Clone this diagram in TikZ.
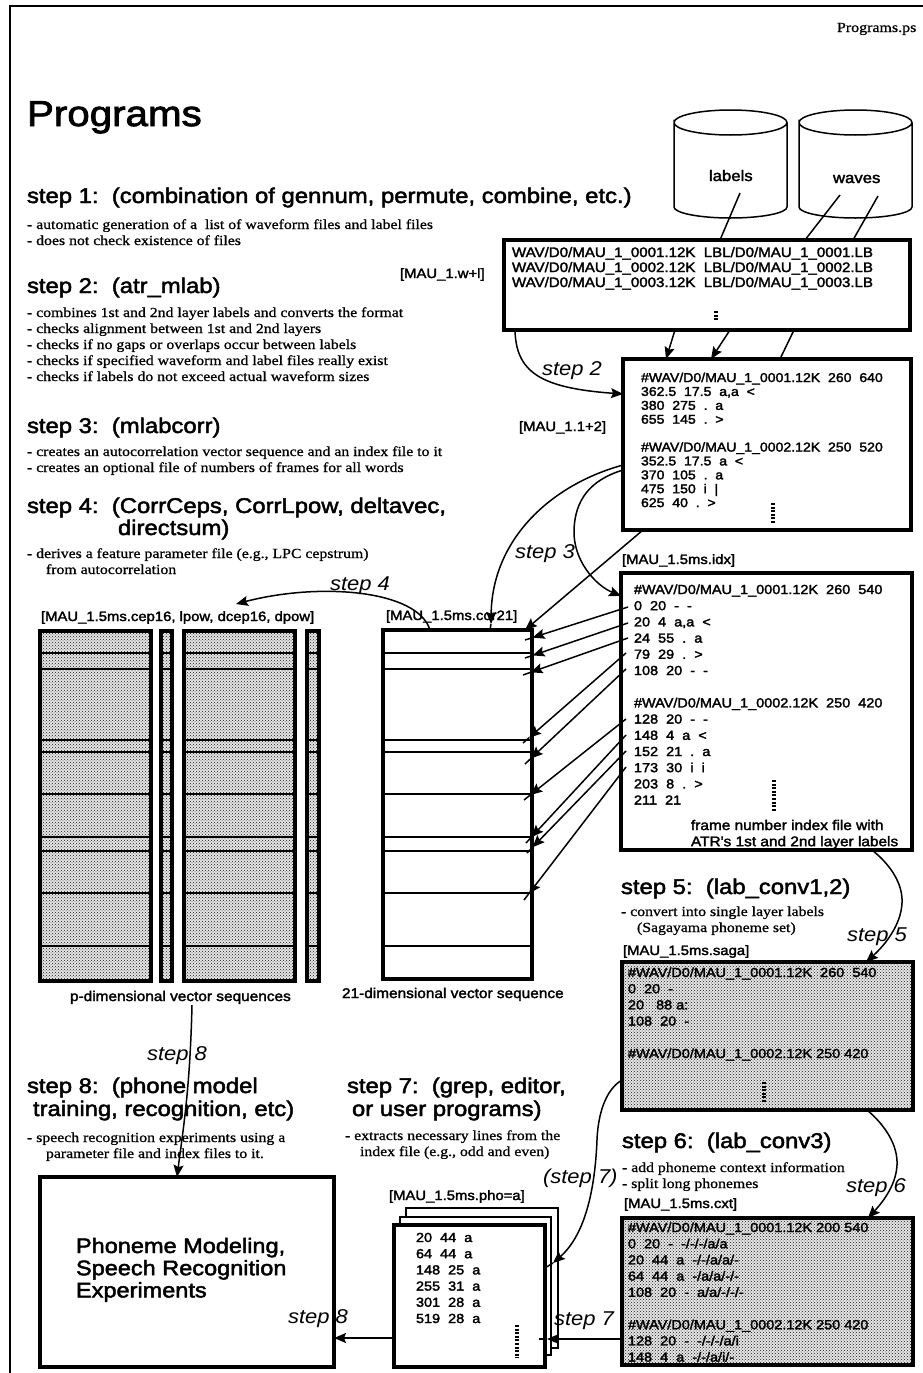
\documentclass[tikz,border=0pt]{standalone}
\usepackage{fontspec}
\usetikzlibrary{arrows.meta,patterns,calc}
\setmainfont{Liberation Serif}
\newfontfamily\hdf[FakeBold=2.2,FakeStretch=1.12]{Liberation Sans}
\newfontfamily\bxf[FakeBold=2.2,FakeStretch=1.1]{Liberation Sans}
\newfontfamily\stf[FakeStretch=1.1]{Liberation Sans}
\newfontfamily\srf[FakeBold=0.9,FakeStretch=1.14]{Liberation Serif}
\newcommand\hb{\rule{0pt}{40pt}}
\tikzset{
  tl/.style={anchor=north west,inner sep=0pt,outer sep=0pt,align=left,yshift=40pt},
  hd/.style={tl,font=\hdf\fontsize{21.3}{22.7}\selectfont},
  sr/.style={tl,font=\srf\fontsize{13.85}{16}\selectfont},
  fl/.style={tl,font=\bxf\fontsize{13.5}{14}\selectfont},
  bt/.style={tl,font=\bxf\fontsize{13.15}{16.2}\selectfont},
  sl/.style={tl,font=\stf\itshape\fontsize{20}{22}\selectfont},
  bx/.style={draw,anchor=north west,inner sep=0pt,outer sep=0pt,line width=3.2pt,fill=white},
  shd/.style={bx,pattern=crosshatch dots,pattern color=black!90},
  gbg/.style={draw=none,anchor=north west,inner sep=0pt,outer sep=0pt,fill=black!10},
  cn/.style={line width=1.5pt},
  arr/.style={cn,-{Stealth[length=12pt,width=10pt,inset=2pt]}},
  dv/.style={line width=1.5pt},
  vd/.style={line width=3.6pt,dash pattern=on 2pt off 1.6pt},
  cyl/.style={anchor=north west,inner sep=0pt,outer sep=0pt,minimum width=113pt,minimum height=108pt}
}
\begin{document}
\begin{tikzpicture}[x=1pt,y=-1pt]
\useasboundingbox (0,0) rectangle (923,1373);
\fill[white] (0,0) rectangle (923,1373);
% page frame
\coordinate (fa) at (10,1373);
\coordinate (fb) at (10,6);
\coordinate (fc) at (923,6);
\draw[line width=1.6pt] (fa) -- (fb) -- (fc);
% cylinders
\node[cyl] (labels) at (674,110) {};
\node[cyl] (waves) at (799,110) {};
\foreach \c in {labels,waves}
  \draw[cn,shift={(\c.north west)}] (0,12.5) .. controls (0,5.6) and (25.3,0) .. (56.5,0) .. controls (87.7,0) and (113,5.6) .. (113,12.5) .. controls (113,19.4) and (87.7,25) .. (56.5,25) .. controls (25.3,25) and (0,19.4) .. (0,12.5) -- (0,97) .. controls (0,103) and (25.3,108) .. (56.5,108) .. controls (87.7,108) and (113,103) .. (113,97) -- (113,12.5);
% boxes
\node[bx,minimum width=406pt,minimum height=90pt] (list) at (504,240) {};
\node[bx,minimum width=288pt,minimum height=171pt] (bb) at (623,359) {};
\node[bx,minimum width=291pt,minimum height=277pt] (idx) at (621,573) {};
\node[gbg,minimum width=291pt,minimum height=148pt] at (622,962) {};
\node[shd,minimum width=291pt,minimum height=148pt] (saga) at (622,962) {};
\node[gbg,minimum width=291pt,minimum height=147pt] at (622,1218) {};
\node[shd,minimum width=291pt,minimum height=147pt] (cxt) at (622,1218) {};
\node[bx,line width=1.5pt,minimum width=152pt,minimum height=140pt] (phoc) at (406,1208) {};
\node[bx,line width=1.5pt,minimum width=151pt,minimum height=138pt] (phob) at (400,1217) {};
\node[bx,minimum width=151pt,minimum height=142pt] (phoa) at (394,1225) {};
\node[bx,minimum width=294pt,minimum height=190pt] (phon) at (40,1177) {};
% vector files
\node[gbg,minimum width=111pt,minimum height=350pt] at (40,631) {};
\node[gbg,minimum width=11pt,minimum height=350pt] at (161,631) {};
\node[gbg,minimum width=111pt,minimum height=350pt] at (184,631) {};
\node[gbg,minimum width=12pt,minimum height=350pt] at (307,631) {};
\node[shd,minimum width=111pt,minimum height=350pt] (pa) at (40,631) {};
\node[shd,minimum width=11pt,minimum height=350pt] (sa) at (161,631) {};
\node[shd,minimum width=111pt,minimum height=350pt] (pb) at (184,631) {};
\node[shd,minimum width=12pt,minimum height=350pt] (sb) at (307,631) {};
\node[bx,minimum width=149pt,minimum height=349pt] (vec) at (383,630) {};
\foreach \n in {pa,sa,pb,sb,vec}
  \foreach \y in {653,669,740,752,794,837,851,893,946}
    \draw[dv] (\n.west |- 0,\y) -- (\n.east |- 0,\y);
% texts
\node[tl,font=\srf\fontsize{14}{15}\selectfont] (hdr) at (837,32) {\hb Programs.ps};
\node[tl,font=\hdf\fontsize{36}{38}\selectfont] (title) at (27,126) {\hb Programs};
\node[hd] (h1) at (27,203) {\hb step 1:\ \ (combination of gennum, permute, combine, etc.)};
\node[sr] (d1) at (27,229) {\hb - automatic generation of a\ \ list of waveform files and label files\\- does not check existence of files};
\node[hd] (h2) at (27,293) {\hb step 2:\ \ (atr\_mlab)};
\node[sr] (d2) at (27,317) {\hb - combines 1st and 2nd layer labels and converts the format\\- checks alignment between 1st and 2nd layers\\- checks if no gaps or overlaps occur between labels\\- checks if specified waveform and label files really exist\\- checks if labels do not exceed actual waveform sizes};
\node[hd] (h3) at (27,433) {\hb step 3:\ \ (mlabcorr)};
\node[sr] (d3) at (27,456) {\hb - creates an autocorrelation vector sequence and an index file to it\\- creates an optional file of numbers of frames for all words};
\node[hd] (h4) at (27,513) {\hb step 4:\ \ (CorrCeps, CorrLpow, deltavec,};
\node[hd] (h4b) at (118,535) {\hb directsum)};
\node[sr] (d4) at (27,558) {\hb - derives a feature parameter file (e.g., LPC cepstrum)};
\node[sr] (d4b) at (46,574) {\hb from autocorrelation};
\node[hd] (h5) at (621,894) {\hb step 5:\ \ (lab\_conv1,2)};
\node[sr] (d5) at (621,916) {\hb - convert into single layer labels};
\node[sr] (d5b) at (637,932) {\hb (Sagayama phoneme set)};
\node[hd] (h6) at (622,1148) {\hb step 6:\ \ (lab\_conv3)};
\node[sr] (d6) at (622,1172) {\hb - add phoneme context information\\- split long phonemes};
\node[hd] (h7) at (347,1093) {\hb step 7:\ \ (grep, editor,};
\node[hd] (h7b) at (352,1116) {\hb or user programs)};
\node[sr] (d7) at (345,1140) {\hb - extracts necessary lines from the};
\node[sr] (d7b) at (360,1156) {\hb index file (e.g., odd and even)};
\node[hd] (h8) at (27,1093) {\hb step 8:\ \ (phone model};
\node[hd] (h8b) at (33,1116) {\hb training, recognition, etc)};
\node[sr] (d8) at (27,1142) {\hb - speech recognition experiments using a};
\node[sr] (d8b) at (46,1158) {\hb parameter file and index files to it.};
% file labels
\node[fl] (lw) at (400,278) {\hb [MAU\_1.w+l]};
\node[fl] (lb) at (519,431) {\hb [MAU\_1.1+2]};
\node[fl] (li) at (622,564) {\hb [MAU\_1.5ms.idx]};
\node[fl] (lp) at (41,621) {\hb [MAU\_1.5ms.cep16, lpow, dcep16, dpow]};
\node[fl] (lv) at (386,620) {\hb [MAU\_1.5ms.cor21]};
\node[fl] (ls) at (623,955) {\hb [MAU\_1.5ms.saga]};
\node[fl] (lc) at (624,1208) {\hb [MAU\_1.5ms.cxt]};
\node[fl] (lo) at (389,1200) {\hb [MAU\_1.5ms.pho=a]};
\node[tl,font=\bxf\fontsize{14}{15}\selectfont] (cp) at (70,1001) {\hb p-dimensional vector sequences};
\node[tl,font=\bxf\fontsize{14}{15}\selectfont] (cv) at (342,998) {\hb 21-dimensional vector sequence};
% cylinder words
\node[tl,font=\bxf\fontsize{15.2}{16}\selectfont] (tlab) at (709,181) {\hb labels};
\node[tl,font=\bxf\fontsize{15.2}{16}\selectfont] (twav) at (833,183) {\hb waves};
% box contents
\node[tl,font=\bxf\fontsize{13.7}{15}\selectfont] (tlist) at (512,257) {\hb WAV/D0/MAU\_1\_0001.12K\ \ LBL/D0/MAU\_1\_0001.LB\\WAV/D0/MAU\_1\_0002.12K\ \ LBL/D0/MAU\_1\_0002.LB\\WAV/D0/MAU\_1\_0003.12K\ \ LBL/D0/MAU\_1\_0003.LB};
\node[tl,font=\bxf\fontsize{12.8}{13.9}\selectfont] (tbb) at (641,382) {\hb \#WAV/D0/MAU\_1\_0001.12K\ \ 260\ \ 640\\362.5\ \ 17.5\ \ a,a\ \ <\\380\ \ 275\ \ .\ \ a\\655\ \ 145\ \ .\ \ >\\~\\\#WAV/D0/MAU\_1\_0002.12K\ \ 250\ \ 520\\352.5\ \ 17.5\ \ a\ \ <\\370\ \ 105\ \ .\ \ a\\475\ \ 150\ \ i\ \ |\\625\ \ 40\ \ .\ \ >};
\node[bt] (tidx) at (634,594) {\hb \#WAV/D0/MAU\_1\_0001.12K\ \ 260\ \ 540\\0\ \ 20\ \ -\ \ -\\20\ \ 4\ \ a,a\ \ <\\24\ \ 55\ \ .\ \ a\\79\ \ 29\ \ .\ \ >\\108\ \ 20\ \ -\ \ -\\~\\\#WAV/D0/MAU\_1\_0002.12K\ \ 250\ \ 420\\128\ \ 20\ \ -\ \ -\\148\ \ 4\ \ a\ \ <\\152\ \ 21\ \ .\ \ a\\173\ \ 30\ \ i\ \ i\\203\ \ 8\ \ .\ \ >\\211\ \ 21};
\node[tl,font=\bxf\fontsize{14}{16.2}\selectfont] (tnote) at (691,830) {\hb frame number index file with\\ATR's 1st and 2nd layer labels};
\node[bt] (tsaga) at (628,977) {\hb \#WAV/D0/MAU\_1\_0001.12K\ \ 260\ \ 540\\0\ \ 20\ \ -\\20\ \ \ 88\ a:\\108\ \ 20\ \ -\\~\\\#WAV/D0/MAU\_1\_0002.12K 250 420};
\node[bt] (tcxt) at (628,1232) {\hb \#WAV/D0/MAU\_1\_0001.12K 200 540\\0\ \ 20\ \ -\ \ -/-/-/a/a\\20\ \ 44\ \ a\ \ -/-/a/a/-\\64\ \ 44\ \ a\ \ -/a/a/-/-\\108\ \ 20\ \ -\ \ a/a/-/-/-\\~\\\#WAV/D0/MAU\_1\_0002.12K 250 420\\128\ \ 20\ \ -\ \ -/-/-/a/i\\148\ \ 4\ \ a\ \ -/-/a/i/-};
\node[bt] (tpho) at (416,1242) {\hb 20\ \ 44\ \ a\\64\ \ 44\ \ a\\148\ \ 25\ \ a\\255\ \ 31\ \ a\\301\ \ 28\ \ a\\519\ \ 28\ \ a};
\node[tl,font=\hdf\fontsize{21}{22.2}\selectfont] (tphon) at (76,1253) {\hb Phoneme Modeling,\\Speech Recognition\\Experiments};
% continuation dots
\coordinate (da1) at (716,311); \coordinate (da2) at (716,320);
\coordinate (db1) at (773,503); \coordinate (db2) at (773,523);
\coordinate (dc1) at (774,780); \coordinate (dc2) at (774,812);
\coordinate (dd1) at (764,1082); \coordinate (dd2) at (764,1103);
\coordinate (de1) at (517,1325); \coordinate (de2) at (517,1358);
\draw[vd] (da1) -- (da2);
\draw[vd] (db1) -- (db2);
\draw[vd] (dc1) -- (dc2);
\draw[vd] (dd1) -- (dd2);
\draw[vd] (de1) -- (de2);
% connectors from the cylinders
\draw[cn] ([shift={(66,83)}]labels.north west) -- (list.north -| 720,0);
\draw[cn] ([shift={(41,85)}]waves.north west) -- (list.north -| 805,0);
\draw[cn] ([shift={(79,86)}]waves.north west) -- (list.north -| 853,0);
% list to combined file
\draw[arr] (list.south -| 675,0) -- (bb.north -| 666,0);
\draw[arr] (list.south -| 730,0) -- (bb.north -| 711,0);
\draw[cn] (list.south -| 794,0) -- (bb.north -| 780,0);
\draw[arr] (list.south -| 515,0) .. controls (516,372) and (540,388) .. (bb.west |- 0,394);
% step 3
\coordinate (ta) at (491,624);
\draw[arr] (bb.west |- 0,465) .. controls (550,485) and (492,540) .. (ta);
\draw[cn] (ta) -- (vec.north -| 490,0);
\draw[arr] (bb.west |- 0,470) .. controls (590,480) and (575,500) .. (574,530) .. controls (573,560) and (595,585) .. (idx.west |- 0,596);
\draw[arr] (bb.south -| 643,0) -- (vec.north -| 525,0);
% index to vector frames
\coordinate (ia1) at (628,607); \coordinate (ia2) at (525,640);
\coordinate (ib1) at (628,623); \coordinate (ib2) at (525,658);
\coordinate (ic1) at (628,638); \coordinate (ic2) at (523,675);
\coordinate (id1) at (626,653); \coordinate (id2) at (523,743);
\coordinate (ie1) at (626,669); \coordinate (ie2) at (525,764);
\coordinate (if1) at (626,719); \coordinate (if2) at (524,800);
\coordinate (ig1) at (626,735); \coordinate (ig2) at (526,843);
\coordinate (ih1) at (626,751); \coordinate (ih2) at (527,853);
\coordinate (ii1) at (626,767); \coordinate (ii2) at (524,900);
\foreach \k in {a,b,c,d,e,f,g,h,i}{
  \draw[arr] (i\k1) -- ($(i\k2)!8pt!(i\k1)$);
  \draw[cn] ($(i\k2)!8pt!(i\k1)$) -- (i\k2);
}
% step 4
\coordinate (sf) at (236,604);
\draw[arr] (vec.north -| 430,0) .. controls (418,590) and (320,582) .. (sf);
% step 5, 6, 7, 8
\draw[arr] (idx.south -| 872,0) .. controls (892,866) and (903,885) .. (902,903) .. controls (901,925) and (885,945) .. (saga.north -| 866,0);
\draw[arr] (saga.south -| 867,0) .. controls (885,1125) and (898,1145) .. (897,1165) .. controls (896,1187) and (880,1205) .. (cxt.north -| 868,0);
\coordinate (tb) at (553,1263);
\draw[arr] (saga.west |- 0,1080) .. controls (605,1090) and (598,1115) .. (597,1140) .. controls (595,1190) and (585,1235) .. (tb);
\draw[cn] (tb) -- (phoa.east |- 0,1268);
\coordinate (ss) at (539,1339);
\coordinate (tc) at (547,1339);
\draw[arr] (cxt.west |- 0,1339) -- (tc);
\draw[cn] (tc) -- (ss);
\draw[arr] (phoa.west |- 0,1338) -- (phon.east |- 0,1338);
\coordinate (se) at (192,1005);
\draw[arr] (se) .. controls (190,1090) and (183,1130) .. (phon.north -| 177,0);
% step labels
\node[sl] (s2) at (542,375) {\hb step 2};
\node[sl] (s3) at (515,558) {\hb step 3};
\node[sl] (s4) at (330,590) {\hb step 4};
\node[sl] (s5) at (847,941) {\hb step 5};
\node[sl] (s6) at (846,1192) {\hb step 6};
\node[sl] (s7a) at (543,1183) {\hb (step 7)};
\node[sl] (s7b) at (554,1325) {\hb step 7};
\node[sl] (s8a) at (147,1060) {\hb step 8};
\node[sl] (s8b) at (288,1323) {\hb step 8};
\end{tikzpicture}
\end{document}
